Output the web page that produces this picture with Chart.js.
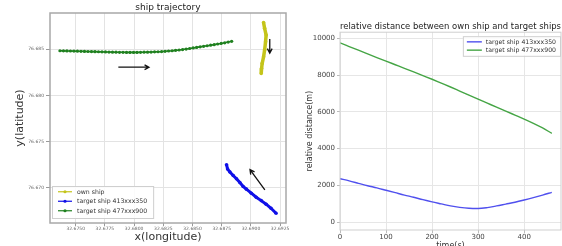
<!DOCTYPE html>
<html>
<head>
<meta charset="utf-8">
<script src="https://cdn.jsdelivr.net/npm/chart.js@4.4.1/dist/chart.umd.min.js"></script>
<style>
  html, body { margin: 0; padding: 0; background: #fff; }
  #wrap { position: relative; width: 562px; height: 246px; overflow: hidden; }
  canvas { position: absolute; top: 0; }
  #grafico-1 { left: 0; }
  #grafico-2 { left: 290px; }
</style>
</head>
<body>
<div id="wrap">
  <canvas id="grafico-1" width="290" height="246"></canvas>
  <canvas id="grafico-2" width="272" height="246"></canvas>
</div>
<script>
// ship trajectory (longitude / latitude)
var lonOwn = [32.69108, 32.69117, 32.69130, 32.69125, 32.69117, 32.69108, 32.69096, 32.69091, 32.69088];
var latOwn = [76.68786, 76.68725, 76.68652, 76.68579, 76.68489, 76.68416, 76.68345, 76.68290, 76.68236];

var lon413 = [32.68791, 32.68800, 32.68820, 32.68848, 32.68876, 32.68905, 32.68933, 32.68961, 32.69003, 32.69045, 32.69088, 32.69130, 32.69172, 32.69215];
var lat413 = [76.67250, 76.67203, 76.67171, 76.67134, 76.67098, 76.67058, 76.67014, 76.66986, 76.66942, 76.66899, 76.66862, 76.66823, 76.66779, 76.66725];

var lon477 = [32.67365, 32.67395, 32.67425, 32.67455, 32.67485, 32.67515, 32.67545, 32.67575, 32.67605, 32.67635,
              32.67665, 32.67695, 32.67725, 32.67755, 32.67785, 32.67815, 32.67845, 32.67875, 32.67905, 32.67935,
              32.67965, 32.67995, 32.68025, 32.68055, 32.68085, 32.68115, 32.68145, 32.68175, 32.68205, 32.68235,
              32.68265, 32.68295, 32.68325, 32.68355, 32.68385, 32.68415, 32.68445, 32.68475, 32.68505, 32.68535,
              32.68565, 32.68595, 32.68625, 32.68655, 32.68685, 32.68715, 32.68745, 32.68775, 32.68805, 32.68835];
var lat477 = [76.68482, 76.68481, 76.68480, 76.68479, 76.68478, 76.68477, 76.68476, 76.68475, 76.68474, 76.68473,
              76.68472, 76.68471, 76.68470, 76.68469, 76.68468, 76.68467, 76.68466, 76.68465, 76.68465, 76.68464,
              76.68464, 76.68464, 76.68464, 76.68465, 76.68466, 76.68467, 76.68468, 76.68470, 76.68471, 76.68473,
              76.68476, 76.68479, 76.68482, 76.68486, 76.68490, 76.68495, 76.68500, 76.68506, 76.68512, 76.68518,
              76.68524, 76.68530, 76.68536, 76.68542, 76.68548, 76.68555, 76.68561, 76.68568, 76.68576, 76.68584];

var ticksLon = [32.6750, 32.6775, 32.6800, 32.6825, 32.6850, 32.6875, 32.6900, 32.6925];
var ticksLat = [76.670, 76.675, 76.680, 76.685];

// hand drawn arrows, in data units [x1, y1, x2, y2]
var arrows = [
  [32.67865, 76.68304, 32.68127, 76.68304],
  [32.69161, 76.68610, 32.69161, 76.68457],
  [32.69119, 76.66978, 32.68992, 76.67196]
];

// relative distance
var time = [0, 20, 40, 60, 80, 100, 120, 140, 160, 180, 200, 220, 240, 260, 280, 300, 320, 340, 360, 380, 400, 420, 440, 460];
var dist413 = [2360, 2240, 2110, 1980, 1860, 1730, 1600, 1470, 1350, 1220, 1100, 990, 880, 800, 750, 740, 790, 880, 980, 1080, 1200, 1330, 1470, 1620];
var dist477 = [9750, 9550, 9350, 9150, 8950, 8760, 8560, 8360, 8170, 7970, 7770, 7560, 7350, 7130, 6910, 6690, 6470, 6250, 6040, 5820, 5600, 5370, 5120, 4830];
var ticksTime = [0, 100, 200, 300, 400];
var ticksDist = [0, 2000, 4000, 6000, 8000, 10000];

var FONT = 'DejaVu Sans';

function pontos(xs, ys) {
  return xs.map(function (x, i) { return { x: x, y: ys[i] }; });
}

function tamanhoFixo(w, h) {
  return function (scale) {
    if (w != null) scale.width = w;
    if (h != null) scale.height = h;
    scale.paddingLeft = scale.paddingRight = scale.paddingTop = scale.paddingBottom = 0;
  };
}

function ticksFixos(lista) {
  return function (scale) {
    scale.ticks = lista.map(function (v) { return { value: v }; });
  };
}

// frame around the plot area
var moldura = {
  id: 'moldura',
  afterDatasetsDraw: function (chart, args, opts) {
    var a = chart.chartArea, ctx = chart.ctx;
    ctx.save();
    ctx.strokeStyle = opts.color;
    ctx.lineWidth = opts.width;
    ctx.strokeRect(a.left, a.top, a.right - a.left, a.bottom - a.top);
    ctx.restore();
  }
};

// arrows drawn with the chart's own scales
var setas = {
  id: 'setas',
  afterDatasetsDraw: function (chart, args, opts) {
    if (!opts.list) return;
    var ctx = chart.ctx, sx = chart.scales.x, sy = chart.scales.y;
    ctx.save();
    ctx.strokeStyle = '#111';
    ctx.lineWidth = 1.3;
    opts.list.forEach(function (s) {
      var x1 = sx.getPixelForValue(s[0]), y1 = sy.getPixelForValue(s[1]);
      var x2 = sx.getPixelForValue(s[2]), y2 = sy.getPixelForValue(s[3]);
      var ang = Math.atan2(y2 - y1, x2 - x1), L = 5;
      ctx.beginPath();
      ctx.moveTo(x1, y1); ctx.lineTo(x2, y2);
      ctx.moveTo(x2 - L * Math.cos(ang - 0.5), y2 - L * Math.sin(ang - 0.5));
      ctx.lineTo(x2, y2);
      ctx.lineTo(x2 - L * Math.cos(ang + 0.5), y2 - L * Math.sin(ang + 0.5));
      ctx.stroke();
    });
    ctx.restore();
  }
};

// boxed legend inside the plot
var caixaLegenda = {
  id: 'caixaLegenda',
  afterDraw: function (chart, args, opts) {
    var ctx = chart.ctx, a = chart.chartArea;
    var sets = chart.data.datasets;
    ctx.save();
    ctx.font = opts.size + 'px "' + FONT + '"';
    var tw = 0;
    sets.forEach(function (d) { tw = Math.max(tw, ctx.measureText(d.label).width); });
    var w = opts.pad + opts.sample + opts.gap + tw + opts.pad;
    var h = sets.length * opts.rowH + opts.padTop + opts.padBottom;
    var x0 = opts.corner === 'bottomLeft' ? a.left + opts.dx : a.right - opts.dx - w;
    var y0 = opts.corner === 'bottomLeft' ? a.bottom - opts.dy - h : a.top + opts.dy;
    ctx.fillStyle = 'rgba(255,255,255,0.85)';
    ctx.fillRect(x0, y0, w, h);
    ctx.strokeStyle = '#cfcfcf';
    ctx.lineWidth = 1;
    ctx.strokeRect(x0 + 0.5, y0 + 0.5, w, h);
    sets.forEach(function (d, i) {
      var cy = y0 + opts.padTop + opts.rowH * (i + 0.5);
      var lx = x0 + opts.pad;
      ctx.strokeStyle = d.borderColor;
      ctx.lineWidth = opts.lineW;
      ctx.beginPath();
      ctx.moveTo(lx, cy); ctx.lineTo(lx + opts.sample, cy);
      ctx.stroke();
      if (opts.markers) {
        ctx.fillStyle = d.borderColor;
        ctx.beginPath();
        ctx.arc(lx + opts.sample / 2, cy, 1.6, 0, Math.PI * 2);
        ctx.fill();
      }
      ctx.fillStyle = '#333';
      ctx.textBaseline = 'middle';
      ctx.fillText(d.label, lx + opts.sample + opts.gap, cy + 0.5);
    });
    ctx.restore();
  }
};

Chart.register(moldura, setas, caixaLegenda);

// ship trajectory
new Chart(document.getElementById('grafico-1').getContext('2d'), {
  type: 'scatter',
  data: {
    datasets: [{
      label: 'own ship',
      data: pontos(lonOwn, latOwn),
      showLine: true,
      borderColor: '#c4c41a',
      backgroundColor: '#c4c41a',
      borderWidth: 3.5,
      pointRadius: 1.8,
      pointBorderWidth: 0
    }, {
      label: 'target ship 413xxx350',
      data: pontos(lon413, lat413),
      showLine: true,
      borderColor: '#1010e8',
      backgroundColor: '#1010e8',
      borderWidth: 3,
      pointRadius: 1.8,
      pointBorderWidth: 0
    }, {
      label: 'target ship 477xxx900',
      data: pontos(lon477, lat477),
      showLine: true,
      borderColor: '#1f801f',
      backgroundColor: '#1f801f',
      borderWidth: 1.6,
      pointRadius: 1.6,
      pointBorderWidth: 0
    }]
  },
  options: {
    responsive: false,
    animation: false,
    devicePixelRatio: 1,
    layout: { padding: { left: 0, right: 3, top: 0, bottom: 0 } },
    plugins: {
      legend: { display: false },
      tooltip: { enabled: false },
      title: {
        display: true,
        text: 'ship trajectory',
        fullSize: false,
        color: '#222',
        font: { family: FONT, size: 9, weight: 'normal' },
        padding: { top: 2, bottom: 0.2 }
      },
      moldura: { color: '#a8a8a8', width: 1.5 },
      setas: { list: arrows },
      caixaLegenda: {
        corner: 'bottomLeft', dx: 2, dy: 5, size: 6.2, rowH: 9.5,
        pad: 6, padTop: 1, padBottom: 2.5, sample: 14, gap: 5, lineW: 1.2, markers: true
      }
    },
    scales: {
      x: {
        type: 'linear',
        min: 32.6728,
        max: 32.6930,
        afterFit: tamanhoFixo(null, 23),
        afterBuildTicks: ticksFixos(ticksLon),
        grid: { color: '#e3e3e3', tickLength: 3, tickColor: '#999' },
        border: { display: false },
        ticks: {
          color: '#666', padding: 0.3, maxRotation: 0, autoSkip: false,
          font: { family: FONT, size: 4.5 },
          callback: function (v) { return v.toFixed(4); }
        },
        title: {
          display: true, text: 'x(longitude)', color: '#333',
          font: { family: FONT, size: 11 }, padding: { top: 0, bottom: 2.4 }
        }
      },
      y: {
        type: 'linear',
        min: 76.6662,
        max: 76.6889,
        afterFit: tamanhoFixo(50, null),
        afterBuildTicks: ticksFixos(ticksLat),
        grid: { color: '#e3e3e3', tickLength: 4, tickColor: '#999' },
        border: { display: false },
        ticks: {
          color: '#666', padding: 2, autoSkip: false,
          font: { family: FONT, size: 4.5 },
          callback: function (v) { return v.toFixed(3); }
        },
        title: {
          display: true, text: 'y(latitude)', color: '#333',
          font: { family: FONT, size: 11 }, padding: { top: 14, bottom: 0 }
        }
      }
    }
  }
});

// relative distance between own ship and target ships
new Chart(document.getElementById('grafico-2').getContext('2d'), {
  type: 'line',
  data: {
    datasets: [{
      label: 'target ship 413xxx350',
      data: pontos(time, dist413),
      borderColor: '#5050ee',
      borderWidth: 1.4,
      pointRadius: 0,
      cubicInterpolationMode: 'monotone'
    }, {
      label: 'target ship 477xxx900',
      data: pontos(time, dist477),
      borderColor: '#45a545',
      borderWidth: 1.4,
      pointRadius: 0,
      cubicInterpolationMode: 'monotone'
    }]
  },
  options: {
    responsive: false,
    animation: false,
    devicePixelRatio: 1,
    layout: { padding: { left: 0, right: 1, top: 0, bottom: 0 } },
    plugins: {
      legend: { display: false },
      tooltip: { enabled: false },
      title: {
        display: true,
        text: 'relative distance between own ship and target ships',
        fullSize: false,
        color: '#222',
        font: { family: FONT, size: 8.5, weight: 'normal' },
        padding: { top: 22, bottom: 0 }
      },
      moldura: { color: '#cfcfcf', width: 1 },
      setas: { list: null },
      caixaLegenda: {
        corner: 'topRight', dx: 1, dy: 4, size: 6.2, rowH: 8.3,
        pad: 4, padTop: 1.5, padBottom: 1.5, sample: 15, gap: 4, lineW: 1.4, markers: false
      }
    },
    scales: {
      x: {
        type: 'linear',
        min: 0,
        max: 480,
        afterFit: tamanhoFixo(null, 16),
        afterBuildTicks: ticksFixos(ticksTime),
        grid: { color: '#e6e6e6', tickLength: 3, tickColor: '#bbb' },
        border: { display: false },
        ticks: {
          color: '#444', padding: 0, maxRotation: 0, autoSkip: false,
          font: { family: FONT, size: 7 },
          callback: function (v) { return String(v); }
        },
        title: {
          display: true, text: 'time(s)', color: '#333',
          font: { family: FONT, size: 8 }, padding: { top: 0, bottom: -5 }
        }
      },
      y: {
        type: 'linear',
        min: -430,
        max: 10330,
        afterFit: tamanhoFixo(50, null),
        afterBuildTicks: ticksFixos(ticksDist),
        grid: { color: '#e6e6e6', tickLength: 3, tickColor: '#bbb' },
        border: { display: false },
        ticks: {
          color: '#444', padding: 2, autoSkip: false,
          font: { family: FONT, size: 7 },
          callback: function (v) { return String(v); }
        },
        title: {
          display: true, text: 'relative distance(m)', color: '#333',
          font: { family: FONT, size: 8 }, padding: { top: 15, bottom: 0 }
        }
      }
    }
  }
});
</script>
</body>
</html>
